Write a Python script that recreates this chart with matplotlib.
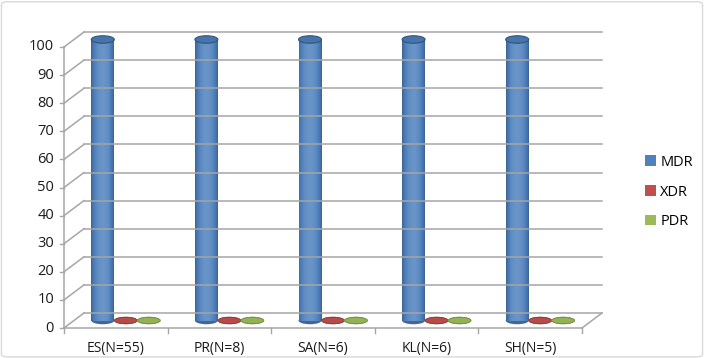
import matplotlib

matplotlib.use("Agg")
import numpy as np
import matplotlib.pyplot as plt
import matplotlib.transforms as mtransforms
from matplotlib.patches import Rectangle, Ellipse, Patch, FancyBboxPatch
from matplotlib.colors import to_rgb

plt.rcParams["font.family"] = ["Open Sans", "DejaVu Sans"]

# data
groups = ["ES(N=55)", "PR(N=8)", "SA(N=6)", "KL(N=6)", "SH(N=5)"]
series = ["MDR", "XDR", "PDR"]
mdr = [100, 100, 100, 100, 100]
xdr = [0, 0, 0, 0, 0]
pdr = [0, 0, 0, 0, 0]
yticks = list(range(0, 101, 10))

colors = {"MDR": "#4f81bd", "XDR": "#c0504d", "PDR": "#9bbb59"}
values = {"MDR": mdr, "XDR": xdr, "PDR": pdr}

fig = plt.figure(figsize=(7.04, 3.58), dpi=100)
fig.patch.set_facecolor("white")
fig.patches.append(FancyBboxPatch((0.002, 0.003), 0.996, 0.992, boxstyle="round,pad=0,rounding_size=0.008",
                                  transform=fig.transFigure, fill=False, edgecolor="#d9d9d9", lw=1.0))

ax = fig.add_axes([64 / 704, 30 / 358, 518 / 704, 281 / 358])
ax.set_xlim(0, len(groups))
ax.set_ylim(0, 100)
ax.axis("off")

# oblique depth: back wall and the middle plane where the cylinders stand
back = mtransforms.offset_copy(ax.transData, fig=fig, x=20, y=15, units="dots")
mid = mtransforms.offset_copy(ax.transData, fig=fig, x=10, y=7.5, units="dots")
lab_off = mtransforms.offset_copy(ax.transData, fig=fig, x=-10, y=0, units="dots")
grid_c = "#a6a6a6"
text_c = "#1a1a1a"
n = len(groups)

for v in yticks:
    # back wall line and the short side-wall stroke
    ax.plot([0, n], [v, v], color=grid_c, lw=1.1, transform=back, clip_on=False)
    p0 = ax.transData.transform((0, v))
    p1 = back.transform((0, v))
    ax.plot([p0[0], p1[0]], [p0[1], p1[1]], color=grid_c, lw=1.1, transform=None, clip_on=False)
    # tick mark + label
    ax.plot([p0[0] - 4, p0[0]], [p0[1], p0[1]], color=grid_c, lw=1.0, transform=None, clip_on=False)
    ax.text(0, v, str(v), ha="right", va="center", fontsize=10.5, color=text_c, transform=lab_off)

# front axis line and floor edges
ax.plot([0, 0], [0, 100], color=grid_c, lw=1.1, clip_on=False)
ax.plot([0, n], [0, 0], color=grid_c, lw=1.1, clip_on=False)
q0 = ax.transData.transform((n, 0))
q1 = back.transform((n, 0))
ax.plot([q0[0], q1[0]], [q0[1], q1[1]], color=grid_c, lw=1.1, transform=None, clip_on=False)

for i in range(n + 1):
    t = ax.transData.transform((i, 0))
    ax.plot([t[0], t[0]], [t[1], t[1] - 5], color=grid_c, lw=1.0, transform=None, clip_on=False)

for i, g in enumerate(groups):
    ax.text(i + 0.5, -4.5, g, ha="center", va="top", fontsize=10, color=text_c)


def shade(base, f):
    c = np.array(to_rgb(base))
    if f >= 0:
        return tuple(c + (1 - c) * f)
    return tuple(c * (1 + f))


bar_w = 0.222
start = 0.5 - 1.5 * bar_w
px_per_unit = 281 / 100
ell_h = 7.5 / px_per_unit
strips = 24

for k, s in enumerate(series):
    base = colors[s]
    for i, v in enumerate(values[s]):
        x0 = i + start + k * bar_w
        # rounded bottom
        ax.add_patch(Ellipse((x0 + bar_w / 2, 0), bar_w, ell_h, facecolor=shade(base, -0.2),
                             edgecolor="none", transform=mid, clip_on=False))
        if v > 0:
            # side of cylinder as shaded strips
            for j in range(strips):
                t = (j + 0.5) / strips
                f = 0.15 * np.sin(np.pi * t) ** 0.7 - 0.32 * (1 - np.sin(np.pi * t) ** 0.5)
                ax.add_patch(Rectangle((x0 + j * bar_w / strips, 0), bar_w / strips * 1.05, v,
                                       facecolor=shade(base, f), edgecolor="none",
                                       transform=mid, clip_on=False))
            ax.add_patch(Ellipse((x0 + bar_w / 2, v), bar_w, ell_h, facecolor=shade(base, -0.1),
                                 edgecolor=shade(base, -0.35), lw=0.8, transform=mid, clip_on=False))
        else:
            ax.add_patch(Ellipse((x0 + bar_w / 2, 0), bar_w, ell_h * 0.85, facecolor=shade(base, -0.05),
                                 edgecolor=shade(base, -0.25), lw=0.6, transform=mid, clip_on=False))

handles = [Patch(facecolor=colors[s], edgecolor="none", label=s) for s in series]
fig.legend(handles=handles, loc="center left", bbox_to_anchor=(632 / 704, 1 - 192 / 358),
           frameon=False, fontsize=10.5, handlelength=0.75, handleheight=0.75, handletextpad=0.3,
           labelspacing=1.0)

fig.savefig("out.png", dpi=100)
